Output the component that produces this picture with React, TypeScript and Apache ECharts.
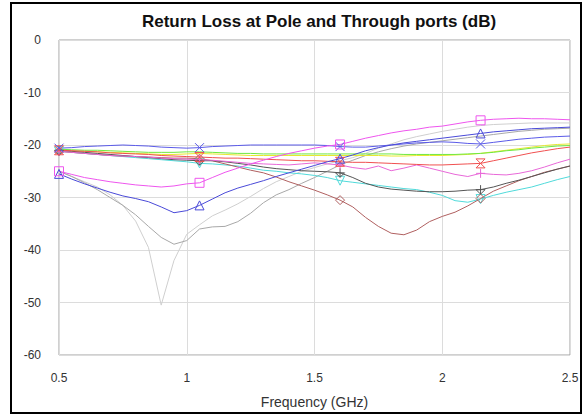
import React, { useEffect, useRef } from "react";
import * as echarts from "echarts";

const freq = [
  0.5, 0.55, 0.6, 0.65, 0.7, 0.75, 0.8, 0.85, 0.9, 0.95, 1.0, 1.05, 1.1, 1.15, 1.2, 1.25, 1.3, 1.35, 1.4, 1.45,
  1.5, 1.55, 1.6, 1.65, 1.7, 1.75, 1.8, 1.85, 1.9, 1.95, 2.0, 2.05, 2.1, 2.15, 2.2, 2.25, 2.3, 2.35, 2.4, 2.45, 2.5,
];

const lightGrey = [
  -25, -26, -27, -28, -29.5, -31.5, -34.5, -39.5, -50.5, -42, -37, -35.2, -33.5, -32.4, -31.2, -29.8, -28.3, -27, -26, -25,
  -24.3, -23.6, -23, -22.4, -21.6, -20.6, -19.8, -19, -18.4, -17.9, -17.4, -17, -16.6, -16.3, -16.1, -16, -15.9, -15.8, -15.8, -15.8, -15.8,
];
const grey = [
  -25, -26, -27.2, -28.5, -30, -31.5, -33.3, -35.5, -37.6, -38.9, -38.2, -36, -35.6, -35.5, -34.6, -33, -31, -29.5, -28.5, -27.3,
  -26.2, -25, -23.8, -22.9, -22, -21.3, -20.7, -20.2, -19.8, -19.5, -19.2, -18.9, -18.6, -18.3, -18, -17.7, -17.4, -17.2, -17, -16.9, -16.8,
];
const yellow = [
  -21, -21.1, -21.2, -21.3, -21.4, -21.5, -21.6, -21.7, -21.8, -21.8, -21.7, -21.6, -21.7, -21.8, -21.9, -22, -22, -22, -22, -22,
  -22, -22, -22, -22, -22, -22, -22.1, -22.1, -22, -22, -22, -21.9, -21.8, -21.6, -21.3, -21, -20.7, -20.4, -20.1, -19.9, -19.8,
];
const green = [
  -20.8, -20.9, -21, -21, -21.1, -21.2, -21.3, -21.4, -21.4, -21.4, -21.3, -21.3, -21.4, -21.5, -21.6, -21.6, -21.7, -21.7, -21.7, -21.7,
  -21.7, -21.7, -21.7, -21.7, -21.7, -21.7, -21.7, -21.8, -21.8, -21.8, -21.8, -21.8, -21.7, -21.6, -21.4, -21.1, -20.9, -20.6, -20.4, -20.2, -20.1,
];
const blueX = [
  -20.6, -20.5, -20.3, -20.2, -20.1, -20, -20.1, -20.2, -20.4, -20.5, -20.6, -20.5, -20.3, -20.2, -20.1, -20, -20, -20, -20, -20,
  -20, -20.1, -20.3, -20.4, -20.4, -20.2, -20, -19.8, -19.6, -19.5, -19.4, -19.5, -19.7, -19.8, -19.5, -19.2, -18.9, -18.7, -18.5, -18.4, -18.3,
];
const red = [
  -21, -21.1, -21.2, -21.3, -21.5, -21.6, -21.7, -21.8, -22, -22.1, -22.2, -22.3, -22.4, -22.5, -22.5, -22.6, -22.7, -22.8, -22.9, -23,
  -23, -23.1, -23.2, -23.3, -23.3, -23.4, -23.5, -23.6, -23.7, -23.8, -23.8, -23.7, -23.6, -23.5, -23, -22.5, -22, -21.5, -21.1, -20.7, -20.4,
];
const pink = [
  -21.2, -21.4, -21.6, -21.8, -22, -22.1, -22.2, -22.3, -22.5, -22.6, -22.7, -22.8, -22.9, -23.1, -23.3, -23.5, -23.6, -23.7, -23.8, -23.6,
  -23.4, -23.6, -23.8, -24.3, -24.6, -24, -24.9, -24.4, -23.8, -24.4, -25, -25.6, -26, -25.4, -25.6, -25.7, -25.4, -24.9, -24.2, -23.4, -22.7,
];
const darkGrey = [
  -21, -21.2, -21.4, -21.6, -21.8, -22, -22.2, -22.4, -22.6, -22.8, -22.9, -23, -23, -23.2, -23.5, -23.8, -24.2, -24.5, -24.7, -24.9,
  -25, -25.1, -25.3, -26.2, -27.3, -28, -28.4, -28.6, -28.8, -28.9, -28.9, -28.8, -28.6, -28.5, -28, -27.3, -26.7, -26, -25.3, -24.6, -24,
];
const brown = [
  -21.2, -21.4, -21.6, -21.8, -22, -22.1, -22.2, -22.3, -22.4, -22.5, -22.5, -22.6, -23, -23.6, -24.2, -24.8, -25.3, -26.1, -27, -27.8,
  -28.6, -29.5, -30.5, -31.8, -33.8, -35.5, -36.8, -37.1, -36.2, -34.6, -33.6, -32.8, -31.6, -30.2, -28.8, -27.8, -26.8, -26, -25.2, -24.6, -24,
];
const cyan = [
  -21.2, -21.4, -21.6, -21.8, -22, -22.2, -22.4, -22.6, -22.8, -23, -23.2, -23.5, -23.6, -23.8, -24, -24.4, -24.8, -25, -25.3, -25.5,
  -25.8, -26.2, -26.8, -27.1, -27.4, -27.7, -28, -28.3, -28.5, -29, -29.6, -30.6, -30.9, -30.3, -29.6, -29, -28.5, -28, -27.3, -26.6, -26,
];
const darkBlue = [
  -25.5, -26.5, -27.4, -28.2, -29, -29.7, -30.2, -30.8, -31.8, -32.9, -32.5, -31.5, -30.3, -29.1, -28.2, -27.5, -26.8, -26, -25.3, -24.6,
  -23.9, -23.2, -22.6, -21.9, -21.1, -20.5, -20, -19.6, -19.3, -19, -18.7, -18.4, -18.1, -17.8, -17.5, -17.3, -17.1, -16.9, -16.8, -16.7, -16.6,
];
const magenta = [
  -25, -25.6, -26.2, -26.6, -27, -27.3, -27.6, -27.8, -28, -27.8, -27.4, -27.2, -26.2, -25.2, -24.4, -23.6, -22.9, -22.2, -21.6, -21.1,
  -20.6, -20.2, -19.9, -19.3, -18.7, -18.2, -17.7, -17.3, -17, -16.6, -16.4, -16, -15.6, -15.3, -15.1, -15, -14.9, -15, -15, -15.1, -15.2,
];

const yTicks = [0, -10, -20, -30, -40, -50, -60];

const SYM_X = "path://M0,0L10,10M10,0L0,10";
const SYM_PLUS = "path://M5,0L5,10M0,5L10,5";
const SYM_DOWN = "path://M0,0L10,0L5,10Z";
const SYM_HOUR = "path://M0,0L10,0L0,10L10,10Z";
const SYM_BAR = "path://M5,0L5,10M0,5L10,5L5,10L0,5";

const seriesDefs = [
  { name: "S1", data: lightGrey, color: "#cfcfcf", symbol: "none" },
  { name: "S2", data: grey, color: "#a8a8a8", symbol: "none" },
  { name: "S3", data: yellow, color: "#e8e830", symbol: "none" },
  { name: "S4", data: green, color: "#70e840", symbol: "none" },
  { name: "S5", data: cyan, color: "#50dada", symbol: SYM_DOWN },
  { name: "S6", data: brown, color: "#b06060", symbol: "diamond" },
  { name: "S7", data: darkGrey, color: "#555555", symbol: SYM_BAR },
  { name: "S8", data: pink, color: "#e868d8", symbol: SYM_PLUS },
  { name: "S9", data: red, color: "#f05050", symbol: SYM_HOUR },
  { name: "S10", data: blueX, color: "#5a5ae8", symbol: SYM_X },
  { name: "S11", data: darkBlue, color: "#4a4ad8", symbol: "triangle" },
  { name: "S12", data: magenta, color: "#ee55ee", symbol: "rect" },
];

const FONT = "Liberation Sans, Arial, sans-serif";

export default function App() {
  const ref = useRef<HTMLDivElement>(null);
  useEffect(() => {
    if (!ref.current) return;
    const chart = echarts.init(ref.current, undefined, { renderer: "svg" });
    const series = seriesDefs.map((s) => ({
      name: s.name,
      type: "line",
      data: s.data.map((v, i) => [freq[i], v]),
      showSymbol: s.symbol !== "none",
      symbol: (_v: any, p: any) => (s.symbol !== "none" && p.dataIndex % 11 === 0 ? s.symbol : "none"),
      symbolSize: 9,
      lineStyle: { color: s.color, width: 1 },
      itemStyle: { color: "rgba(255,255,255,0)", borderColor: s.color, borderWidth: 1 },
      emphasis: { disabled: true },
      silent: true,
      z: 2,
    }));
    chart.setOption({
      animation: false,
      backgroundColor: "#ffffff",
      title: {
        text: "Return Loss at Pole and Through ports (dB)",
        left: 314,
        top: 8,
        textAlign: "center",
        textStyle: { fontFamily: FONT, fontSize: 17, fontWeight: "bold", color: "#111" },
      },
      graphic: [
        {
          type: "rect",
          shape: { x: 11, y: 3, width: 570, height: 410 },
          style: { fill: "none", stroke: "#000", lineWidth: 2 },
          silent: true,
          z: 100,
        },
      ],
      grid: { left: 59, right: 13, top: 40, bottom: 61, show: true, borderColor: "#a0a0a0", borderWidth: 1, backgroundColor: "transparent" },
      xAxis: {
        type: "value",
        min: 0.5,
        max: 2.5,
        interval: 0.5,
        name: "Frequency (GHz)",
        nameLocation: "middle",
        nameGap: 40,
        nameTextStyle: { fontFamily: FONT, fontSize: 14, color: "#333" },
        axisLine: { show: false },
        axisTick: { show: false },
        axisLabel: { margin: 17, fontFamily: FONT, fontSize: 12, color: "#333" },
        splitLine: { show: true, lineStyle: { color: "#dcdcdc", width: 1 } },
      },
      yAxis: {
        type: "value",
        min: yTicks[yTicks.length - 1],
        max: yTicks[0],
        interval: 10,
        axisLine: { show: false },
        axisTick: { show: false },
        axisLabel: { margin: 18, fontFamily: FONT, fontSize: 12, color: "#333" },
        splitLine: { show: true, lineStyle: { color: "#dcdcdc", width: 1 } },
      },
      series,
    });
    return () => chart.dispose();
  }, []);
  return <div ref={ref} style={{ position: "absolute", left: 0, top: 0, width: 583, height: 416 }} />;
}
